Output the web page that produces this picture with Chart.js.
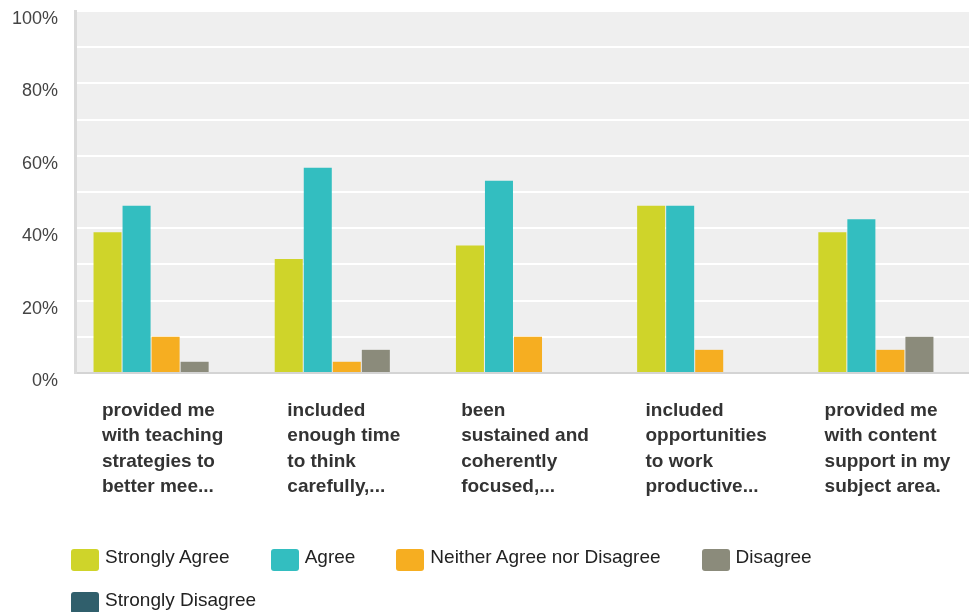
<!DOCTYPE html>
<html>
<head>
<meta charset="utf-8">
<script src="https://cdn.jsdelivr.net/npm/chart.js@4/dist/chart.umd.min.js"></script>
<style>
  html, body { margin: 0; padding: 0; background: #fff; overflow: hidden; }
  body { width: 969px; height: 612px; position: relative; font-family: Arial, "Liberation Sans", Helvetica, sans-serif; }
  .chart-wrap { position: absolute; left: 0; top: 0; width: 981px; height: 612px; }
  .chart-legend { position: absolute; left: 71px; top: 549px; width: 898px; display: flex; flex-wrap: wrap; row-gap: 21px; column-gap: 41px; }
  .chart-legend__item { display: flex; align-items: flex-start; height: 22px; }
  .chart-legend__box { width: 28px; height: 22px; border-radius: 3px; margin-right: 6px; flex: none; }
  .chart-legend__label { font-size: 19px; line-height: 15px; color: #222; white-space: nowrap; }
</style>
</head>
<body>
<div class="chart-wrap"><canvas id="surveyChart"></canvas></div>
<div class="chart-legend" id="survey-legend"></div>
<script>
'use strict';

// question labels, already cut into the lines shown under each group
const questions = [
  ['provided me', 'with teaching', 'strategies to', 'better mee...'],
  ['included', 'enough time', 'to think', 'carefully,...'],
  ['been', 'sustained and', 'coherently', 'focused,...'],
  ['included', 'opportunities', 'to work', 'productive...'],
  ['provided me', 'with content', 'support in my', 'subject area.'],
];

const answerNames = ['Strongly Agree', 'Agree', 'Neither Agree nor Disagree', 'Disagree', 'Strongly Disagree'];
const answerColors = ['#cfd42a', '#33bec0', '#f6ae21', '#8b8b7b', '#305f6c'];

// percent of respondents, per question
const stronglyAgree = [38.9, 31.5, 35.2, 46.2, 38.9];
const agree = [46.2, 56.7, 53.1, 46.2, 42.5];
const neither = [10.0, 3.1, 10.0, 6.4, 6.4];
const disagree = [3.1, 6.4, 0, 0, 10.0];
const stronglyDisagree = [0, 0, 0, 0, 0];

const answerSeries = [stronglyAgree, agree, neither, disagree, stronglyDisagree];

const plotBackground = {
  id: 'plotBackground',
  beforeDraw(chart) {
    const { ctx, chartArea } = chart;
    ctx.save();
    ctx.fillStyle = '#efefef';
    ctx.fillRect(chartArea.left, chartArea.top, chartArea.right - chartArea.left, chartArea.bottom - chartArea.top);
    ctx.restore();
  },
};

// x labels: each block centred under its group, lines left aligned
const questionLabels = {
  id: 'questionLabels',
  afterDraw(chart) {
    const { ctx } = chart;
    const xScale = chart.scales.x;
    ctx.save();
    ctx.font = 'bold 19px Arial, "Liberation Sans", sans-serif';
    ctx.fillStyle = '#333';
    ctx.textAlign = 'left';
    ctx.textBaseline = 'alphabetic';
    questions.forEach((lines, i) => {
      const widest = Math.max(...lines.map((line) => ctx.measureText(line).width));
      const left = xScale.getPixelForTick(i) - widest / 2 - 3;
      lines.forEach((line, j) => {
        ctx.fillText(line, left, 416 + j * 25.3);
      });
    });
    ctx.restore();
  },
};

const surveyChart = new Chart(document.getElementById('surveyChart'), {
  type: 'bar',
  data: {
    labels: questions.map((lines) => lines.join(' ')),
    datasets: answerSeries.map((values, i) => ({
      label: answerNames[i],
      data: values,
      backgroundColor: answerColors[i],
      borderWidth: 0,
      categoryPercentage: 0.801,
      barPercentage: 0.9655,
    })),
  },
  options: {
    responsive: true,
    maintainAspectRatio: false,
    animation: false,
    layout: { padding: { top: 11, right: 0, left: 0, bottom: 0 } },
    plugins: {
      legend: { display: false },
      tooltip: { enabled: false },
    },
    scales: {
      x: {
        grid: { display: false },
        border: { color: '#d4d4d4', width: 2 },
        ticks: { display: false },
        afterFit: (scale) => {
          scale.height = 239;
          scale.paddingLeft = 0;
          scale.paddingRight = 0;
        },
      },
      y: {
        min: 0,
        max: 100,
        grid: { color: '#ffffff', lineWidth: 2, drawTicks: false },
        border: { color: '#dadada', width: 3 },
        ticks: {
          stepSize: 10,
          padding: 17,
          labelOffset: 8,
          color: '#444',
          font: { family: 'Arial, "Liberation Sans", sans-serif', size: 18 },
          callback: (value) => (value % 20 === 0 ? value + '%' : ''),
        },
        afterFit: (scale) => {
          scale.width = 75;
          scale.paddingTop = 0;
          scale.paddingBottom = 0;
        },
      },
    },
  },
  plugins: [plotBackground, questionLabels],
});

document.getElementById('survey-legend').innerHTML = answerNames.map((name, i) => `
  <div class="chart-legend__item">
    <span class="chart-legend__box" style="background:${answerColors[i]}"></span>
    <span class="chart-legend__label">${name}</span>
  </div>
`).join('');
</script>
</body>
</html>
